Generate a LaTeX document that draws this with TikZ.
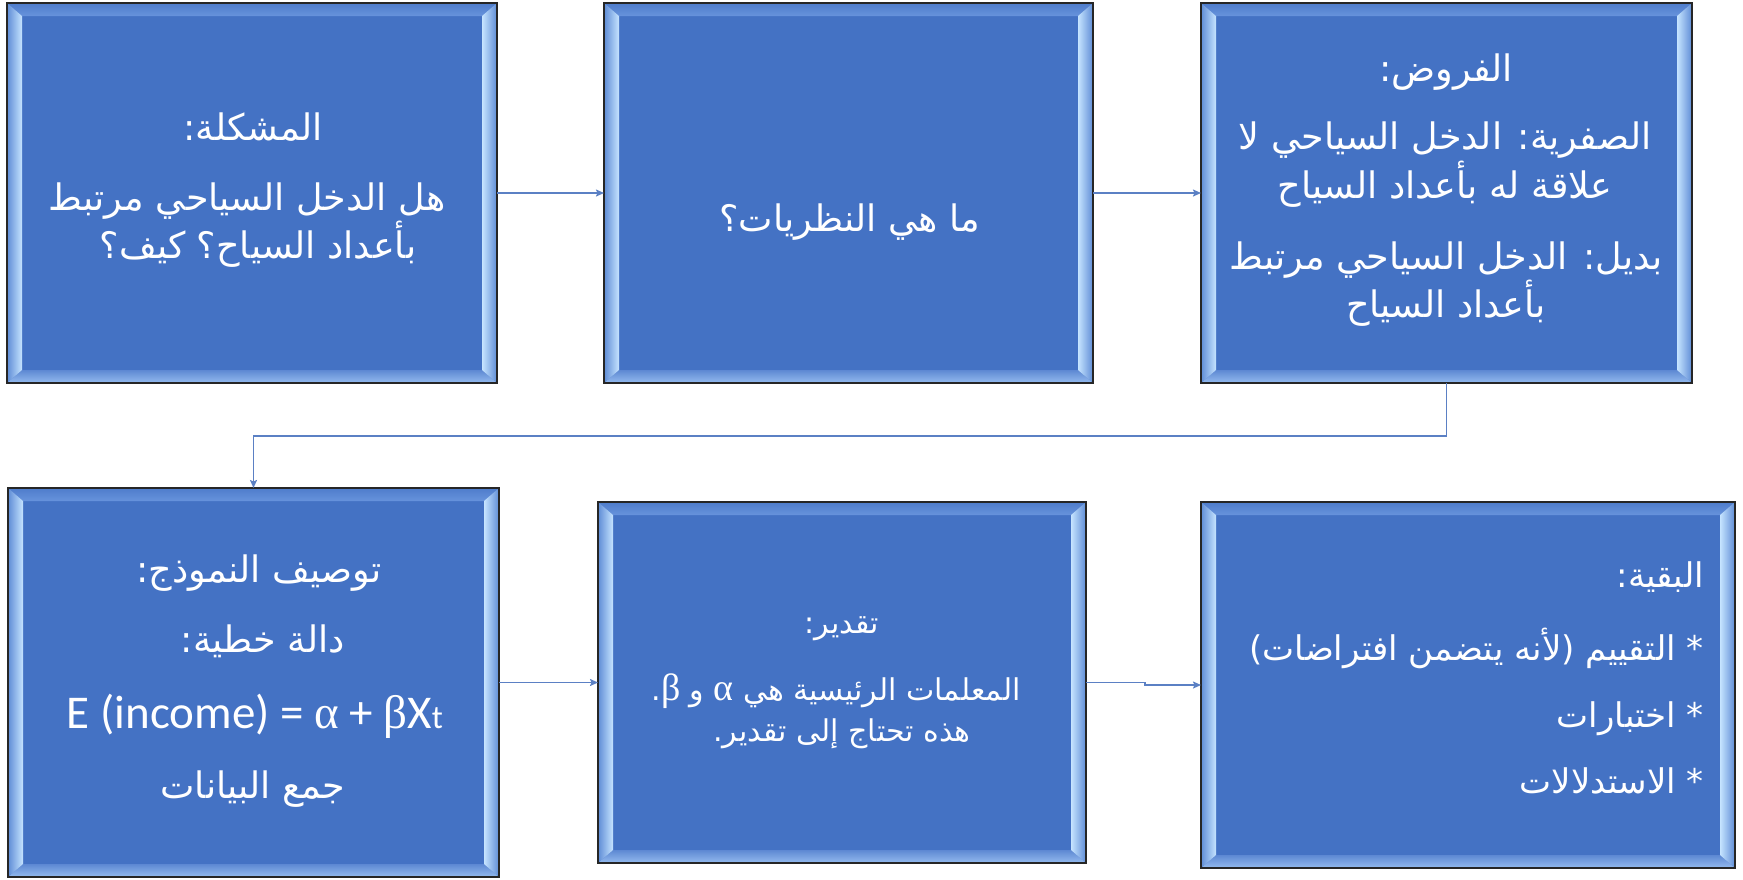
\documentclass[tikz,border=0pt]{standalone}
\usepackage{fontspec}
\setmainfont{Carlito}
\newfontfamily\arabicfont[Script=Arabic]{DejaVu Sans}
\newfontfamily\grkfont{Liberation Serif}
\TeXXeTstate=1
\usetikzlibrary{calc,arrows.meta}
\definecolor{boxfill}{HTML}{4472C4}
\definecolor{boxline}{HTML}{262626}
\definecolor{bevlight}{HTML}{C6E4FF}
\definecolor{bevmid}{HTML}{5E8CD6}
\definecolor{bevtopa}{HTML}{4E7CCB}
\definecolor{bevtopb}{HTML}{6793DC}
\definecolor{bevbota}{HTML}{5D88D3}
\definecolor{bevbotb}{HTML}{94BBEE}
\definecolor{connblue}{HTML}{5B80C4}
\newcommand{\AR}[1]{{\arabicfont\beginR #1\endR}}
\begin{document}
\begin{tikzpicture}[x=1pt,y=-1pt,
  bevelbox/.style={draw=boxline, line width=2pt, fill=boxfill, rectangle,
    inner sep=0pt, outer sep=0pt,
    path picture={
      \coordinate (pNW) at (path picture bounding box.north west);
      \coordinate (pNE) at (path picture bounding box.north east);
      \coordinate (pSW) at (path picture bounding box.south west);
      \coordinate (pSE) at (path picture bounding box.south east);
      \shade[top color=bevtopa, bottom color=bevtopb]
        (pNW) -- (pNE) -- ($(pNE)+(-15pt,-13pt)$) -- ($(pNW)+(15pt,-13pt)$) -- cycle;
      \shade[top color=bevbota, bottom color=bevbotb]
        (pSW) -- (pSE) -- ($(pSE)+(-15pt,13pt)$) -- ($(pSW)+(15pt,13pt)$) -- cycle;
      \shade[left color=bevmid, right color=bevlight]
        (pNW) -- ($(pNW)+(15pt,-13pt)$) -- ($(pSW)+(15pt,13pt)$) -- (pSW) -- cycle;
      \shade[left color=bevlight, right color=bevmid]
        (pNE) -- ($(pNE)+(-15pt,-13pt)$) -- ($(pSE)+(-15pt,13pt)$) -- (pSE) -- cycle;
    }},
  txt/.style={text=white, inner sep=0pt, anchor=base, font=\fontsize{36.5}{42}\selectfont},
  txtsmall/.style={txt, font=\fontsize{30}{35}\selectfont},
  txtright/.style={txt, anchor=base east, font=\fontsize{34}{40}\selectfont},
  connector/.style={draw=connblue, line width=1.6pt, -{Stealth[length=8pt,width=7pt,inset=1.5pt]}}
]
\useasboundingbox (0,0) rectangle (1743,879);
\fill[white] (0,0) rectangle (1743,879);

% boxes
\node[bevelbox, minimum width=490pt, minimum height=380pt] (b1) at (252,193) {};
\node[bevelbox, minimum width=489pt, minimum height=380pt] (b2) at (848.5,193) {};
\node[bevelbox, minimum width=491pt, minimum height=380pt] (b3) at (1446.5,193) {};
\node[bevelbox, minimum width=491pt, minimum height=389pt] (b4) at (253.5,682.5) {};
\node[bevelbox, minimum width=488pt, minimum height=361pt] (b5) at (842,682.5) {};
\node[bevelbox, minimum width=534pt, minimum height=366pt] (b6) at (1468,685) {};

% texts box 1
\node[txt] (t1a) at (253,140) {\AR{المشكلة:}};
\node[txt] (t1b) at (247,210) {\AR{هل الدخل السياحي مرتبط}};
\node[txt] (t1c) at (258,258) {\AR{بأعداد السياح؟ كيف؟}};
% box 2
\node[txt] (t2a) at (850,231) {\AR{ما هي النظريات؟}};
% box 3
\node[txt] (t3a) at (1446,81) {\AR{الفروض:}};
\node[txt] (t3b) at (1445,149) {\AR{الصفرية: الدخل السياحي لا}};
\node[txt] (t3c) at (1445,198) {\AR{علاقة له بأعداد السياح}};
\node[txt] (t3d) at (1446,269) {\AR{بديل: الدخل السياحي مرتبط}};
\node[txt] (t3e) at (1446,317) {\AR{بأعداد السياح}};
% box 4
\node[txt] (t4a) at (259,582) {\AR{توصيف النموذج:}};
\node[txt] (t4b) at (263,652) {\AR{دالة خطية:}};
\node[txt, font=\fontsize{47}{52}\selectfont] (t4c) at (255,728)
  {E (income) = {\grkfont α} + {\grkfont β}X{\fontsize{33}{33}\selectfont t}};
\node[txt] (t4d) at (253,798) {\AR{جمع البيانات}};
% box 5
\node[txtsmall] (t5a) at (842,633) {\AR{تقدير:}};
\node[txtsmall] (t5b) at (836,700) {\AR{المعلمات الرئيسية هي {\grkfont\fontsize{38}{38}\selectfont α} و {\grkfont\fontsize{38}{38}\selectfont β}\kern0pt.}};
\node[txtsmall] (t5c) at (842,741) {\AR{هذه تحتاج إلى تقدير.}};
% box 6
\node[txtright] (t6a) at (1704,587) {\AR{البقية:}};
\node[txtright] (t6b) at (1704,660) {\AR{* التقييم (لأنه يتضمن افتراضات)}};
\node[txtright] (t6c) at (1704,727) {\AR{* اختبارات}};
\node[txtright] (t6d) at (1704,793) {\AR{* الاستدلالات}};

% connectors
\draw[connector] (b1.east) -- (b2.west);
\draw[connector] (b2.east) -- (b3.west);
\coordinate (e1) at (1446.5,436);
\draw[connector] (b3.south) -- (e1) -| (b4.north);
\draw[connector] (b4.east) -- (b5.west);
\coordinate (e2) at (1145,682.5);
\coordinate (e3) at (1145,685);
\draw[connector] (b5.east) -- (e2) -- (e3) -- (b6.west);
\end{tikzpicture}
\end{document}
